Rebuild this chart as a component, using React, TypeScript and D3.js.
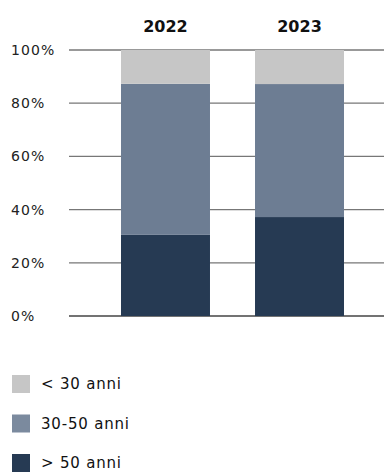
import React from 'react';
import * as d3 from 'd3';

const years = ['2022', '2023'];
const over50 = [30.5, 37.2];
const mid3050 = [56.8, 50.0];
const under30 = [12.7, 12.8];
const yTicks = [0, 20, 40, 60, 80, 100];

const seriesKeys = ['over50', 'mid', 'under30'];
const colors: Record<string, string> = {
  over50: '#263a53',
  mid: '#6d7d93',
  under30: '#c6c6c6',
};
const legendItems = [
  { key: 'under30', label: '< 30 anni' },
  { key: 'mid', label: '30-50 anni' },
  { key: 'over50', label: '> 50 anni' },
];

const W = 384;
const H = 472;
const font = '"DejaVu Sans", "Noto Sans", sans-serif';

const App = () => {
  const rows = years.map((y, i) => ({
    year: y,
    over50: over50[i],
    mid: mid3050[i],
    under30: under30[i],
  }));
  const stacked = d3.stack<any>().keys(seriesKeys)(rows);

  const x = d3
    .scaleBand()
    .domain(years)
    .range([69, 396])
    .paddingInner(0.336)
    .paddingOuter(0.388);
  const y = d3.scaleLinear().domain([0, 100]).range([316, 50]);

  return (
    <svg
      width={W}
      height={H}
      style={{ position: 'absolute', left: 0, top: 0, display: 'block' }}
      fontFamily={font}
    >
      {yTicks.map((t) => (
        <g key={t}>
          <line
            x1={69}
            x2={W}
            y1={y(t)}
            y2={y(t)}
            stroke={t === 0 ? '#444' : '#777'}
            strokeWidth={1.3}
          />
          <text x={11} y={y(t)} dy="0.36em" fontSize={14} letterSpacing={1.1} fill="#222">
            {t}%
          </text>
        </g>
      ))}
      {stacked.map((s) => (
        <g key={s.key} fill={colors[s.key]}>
          {s.map((d, i) => (
            <rect
              key={i}
              x={x(years[i])}
              width={x.bandwidth()}
              y={y(d[1])}
              height={y(d[0]) - y(d[1])}
            />
          ))}
        </g>
      ))}
      {years.map((yr) => (
        <text
          key={yr}
          x={(x(yr) as number) + x.bandwidth() / 2}
          y={32}
          textAnchor="middle"
          fontSize={16}
          fontWeight="bold"
          fill="#111"
        >
          {yr}
        </text>
      ))}
      {legendItems.map((it, i) => (
        <g key={it.key} transform={`translate(12, ${375 + i * 39.5})`}>
          <rect width={18} height={18} fill={colors[it.key]} opacity={it.key === 'mid' ? 0.9 : 1} />
          <text x={29} y={9} dy="0.36em" fontSize={15} letterSpacing={0.8} fill="#111">
            {it.label}
          </text>
        </g>
      ))}
    </svg>
  );
};

export default App;
